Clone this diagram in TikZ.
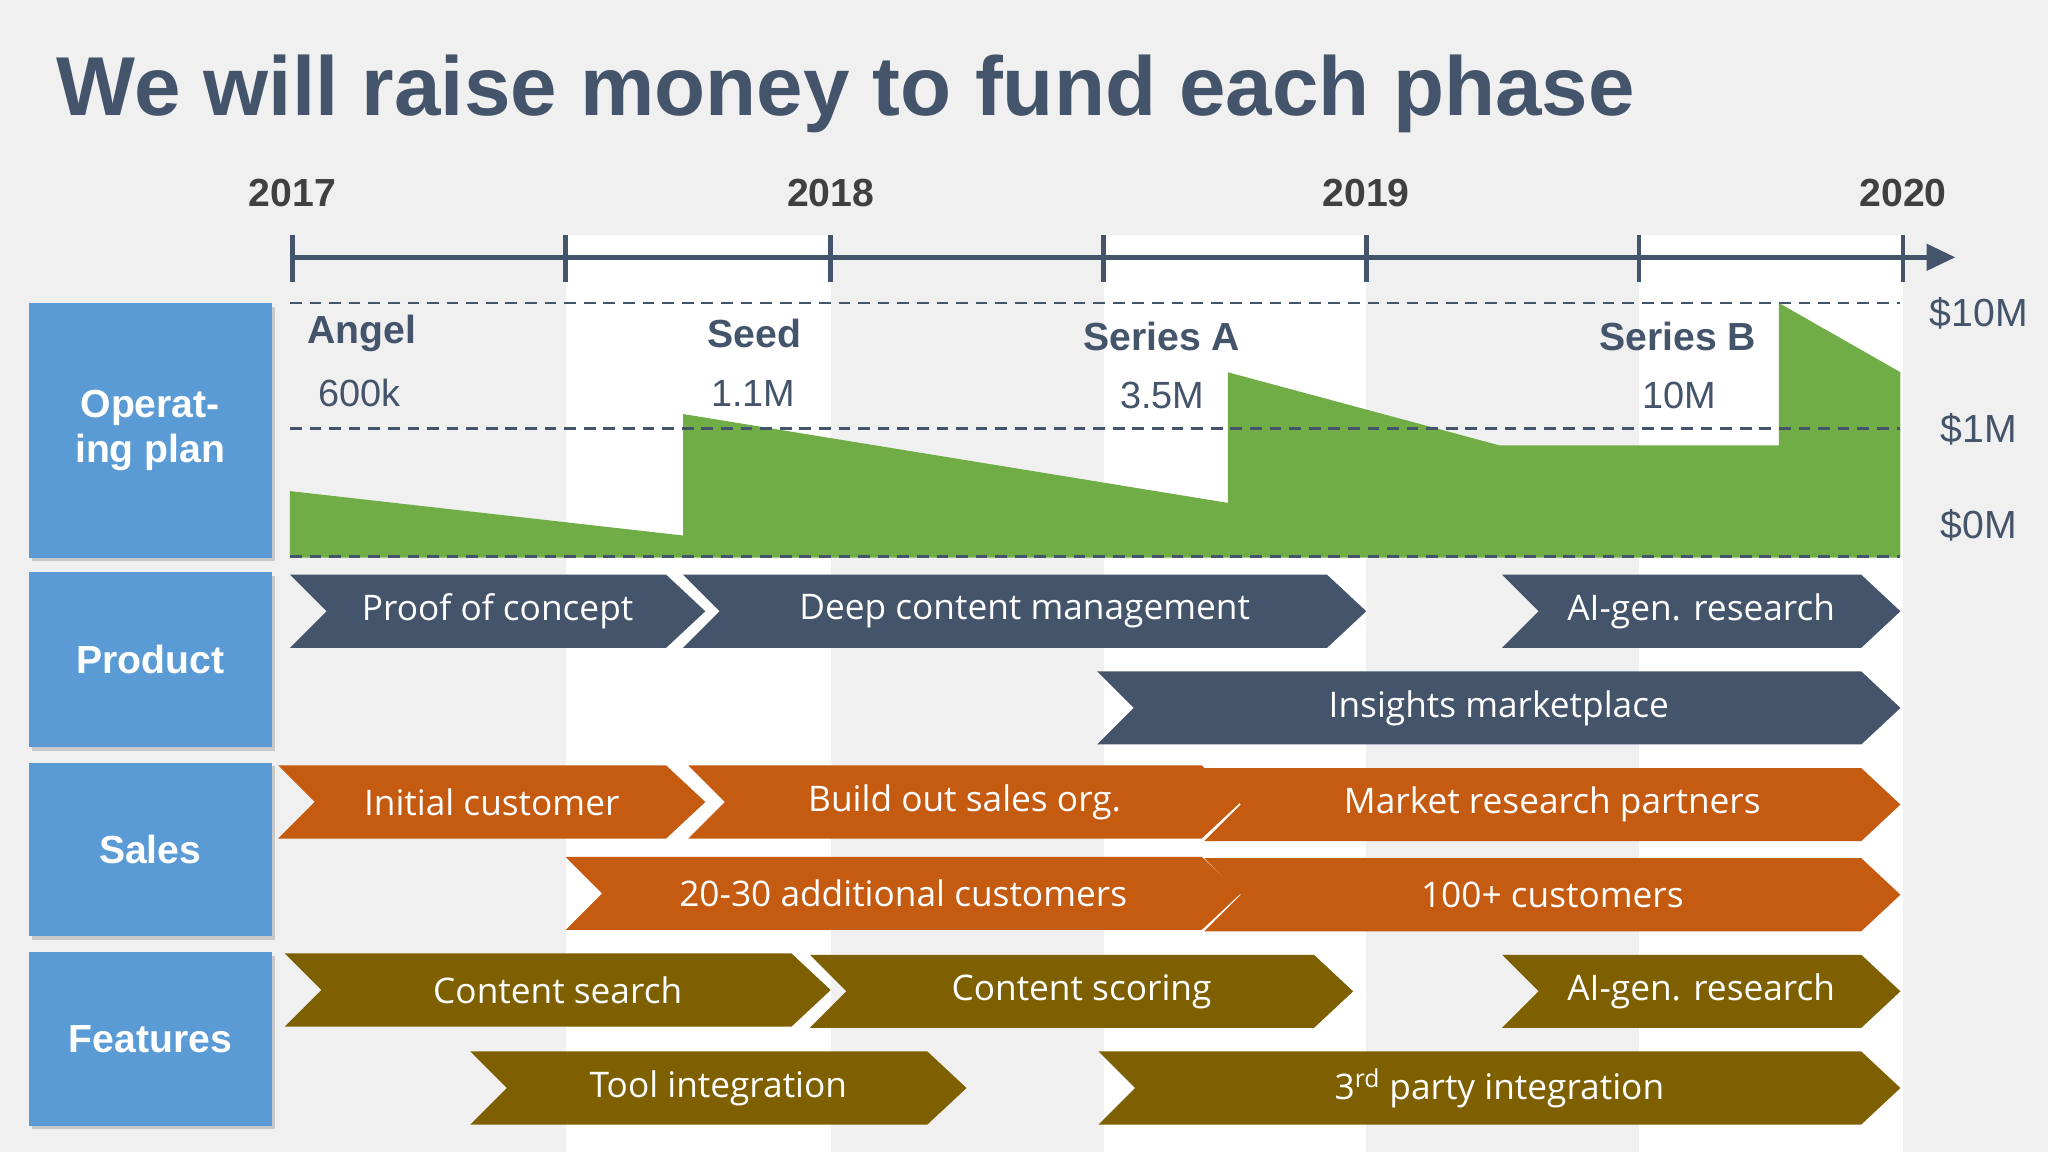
\documentclass[tikz,border=0pt]{standalone}
\usepackage{fontspec}
\usetikzlibrary{arrows.meta,shadows}
\setmainfont{Open Sans}
\newfontfamily\hfont{Liberation Sans}
\definecolor{bgray}{HTML}{F0F0F0}
\definecolor{navy}{HTML}{44546A}
\definecolor{orng}{HTML}{C55A11}
\definecolor{olive}{HTML}{7F6000}
\definecolor{grn}{HTML}{70AD47}
\definecolor{lblue}{HTML}{5B9BD5}
\definecolor{txt}{HTML}{404040}
\newcommand\chevr[7]{% name, x1, x2, ytop, ybot, color, text
  \fill[#6] (#2,#4) -- (#3-30,#4) -- (#3,{(#4+#5)/2}) -- (#3-30,#5) -- (#2,#5) -- (#2+28,{(#4+#5)/2}) -- cycle;
  \node[chevtext] (#1) at ({(#2+#3)/2},{(#4+#5)/2}) {#7};}
\begin{document}
\begin{tikzpicture}[x=1pt,y=-1pt,
  chevtext/.style={text=white,font=\fontsize{27}{30}\selectfont},
  rowlab/.style={fill=lblue,text=white,font=\hfont\bfseries\fontsize{30}{34}\selectfont,align=center,drop shadow={opacity=0.35}},
  yr/.style={text=txt,font=\hfont\bfseries\fontsize{30}{34}\selectfont},
  rnd/.style={text=navy,font=\hfont\bfseries\fontsize{30}{34}\selectfont,anchor=west},
  amt/.style={text=navy,font=\hfont\fontsize{29}{33}\selectfont,anchor=west},
  scl/.style={text=navy,font=\hfont\fontsize{30}{34}\selectfont},
  dsh/.style={navy,line width=2pt,dash pattern=on 9pt off 6pt}]
\useasboundingbox (0,0) rectangle (1568,882);
\fill[bgray] (0,0) rectangle (1568,882);
\foreach \a/\b in {433/636,845/1046,1255/1457} \fill[white] (\a,180) rectangle (\b,882);
\node[anchor=west,text=navy,font=\hfont\bfseries\fontsize{64}{70}\selectfont] (title) at (40,72) {We will raise money to fund each phase};
% axis
\coordinate (ax0) at (224,197); \coordinate (ax1) at (1497,197);
\draw[navy,line width=3.5pt,-{Triangle[length=22pt,width=20pt]}] (ax0) -- (ax1);
\foreach \x in {224,433,636,845,1046,1255,1457} \draw[navy,line width=3.5pt] (\x,180) -- (\x,216);
\node[yr] (y17) at (224,148) {2017};
\node[yr] (y18) at (636,148) {2018};
\node[yr] (y19) at (1046,148) {2019};
\node[yr] (y20) at (1457,148) {2020};
% row labels
\node[rowlab,minimum width=186pt,minimum height=195pt] (op) at (115,329.5) {Operat-\\ing plan};
\node[rowlab,minimum width=186pt,minimum height=134pt] (pr) at (115,505) {Product};
\node[rowlab,minimum width=186pt,minimum height=133pt] (sa) at (115,650.5) {Sales};
\node[rowlab,minimum width=186pt,minimum height=133pt] (fe) at (115,795.5) {Features};
% green area
\fill[grn] (222,376) -- (523,410) -- (523,317) -- (940,385) -- (940,285) -- (1148,341) -- (1362,341) -- (1362,232) -- (1455,285) -- (1455,427) -- (222,427) -- cycle;
\draw[dsh] (222,232) -- (1455,232);
\draw[dsh] (222,328) -- (1455,328);
\draw[dsh] (222,426) -- (1455,426);
\node[scl] (s10) at (1515,240) {\$10M};
\node[scl] (s1) at (1515,329) {\$1M};
\node[scl] (s0) at (1515,402) {\$0M};
\node[rnd] (angel) at (232,255) {Angel};
\node[amt] (a1) at (240,301) {600k};
\node[rnd] (seed) at (538,255) {Seed};
\node[amt] (a2) at (541,301) {1.1M};
\node[rnd] (sa1) at (826,258) {Series A};
\node[amt] (a3) at (854,303) {3.5M};
\node[rnd] (sb) at (1221,258) {Series B};
\node[amt] (a4) at (1254,303) {10M};
% product
\chevr{p1}{222}{540}{440}{496}{navy}{Proof of concept}
\chevr{p2}{523}{1046}{440}{496}{navy}{Deep content management}
\chevr{p3}{1150}{1455}{440}{496}{navy}{AI-gen. research}
\chevr{p4}{840}{1455}{514}{570}{navy}{Insights marketplace}
% sales
\chevr{s1c}{213}{540}{586}{642}{orng}{Initial customer}
\chevr{s2c}{527}{950}{586}{642}{orng}{Build out sales org.}
\chevr{s3c}{922}{1455}{588}{644}{orng}{Market research partners}
\chevr{s4c}{433}{950}{656}{712}{orng}{20-30 additional customers}
\chevr{s5c}{922}{1455}{657}{713}{orng}{100+ customers}
% features
\chevr{f1}{218}{636}{730}{786}{olive}{Content search}
\chevr{f2}{620}{1036}{731}{787}{olive}{Content scoring}
\chevr{f3}{1150}{1455}{731}{787}{olive}{AI-gen. research}
\chevr{f4}{360}{740}{805}{861}{olive}{Tool integration}
\chevr{f5}{841}{1455}{805}{861}{olive}{3\textsuperscript{rd} party integration}
\end{tikzpicture}
\end{document}
